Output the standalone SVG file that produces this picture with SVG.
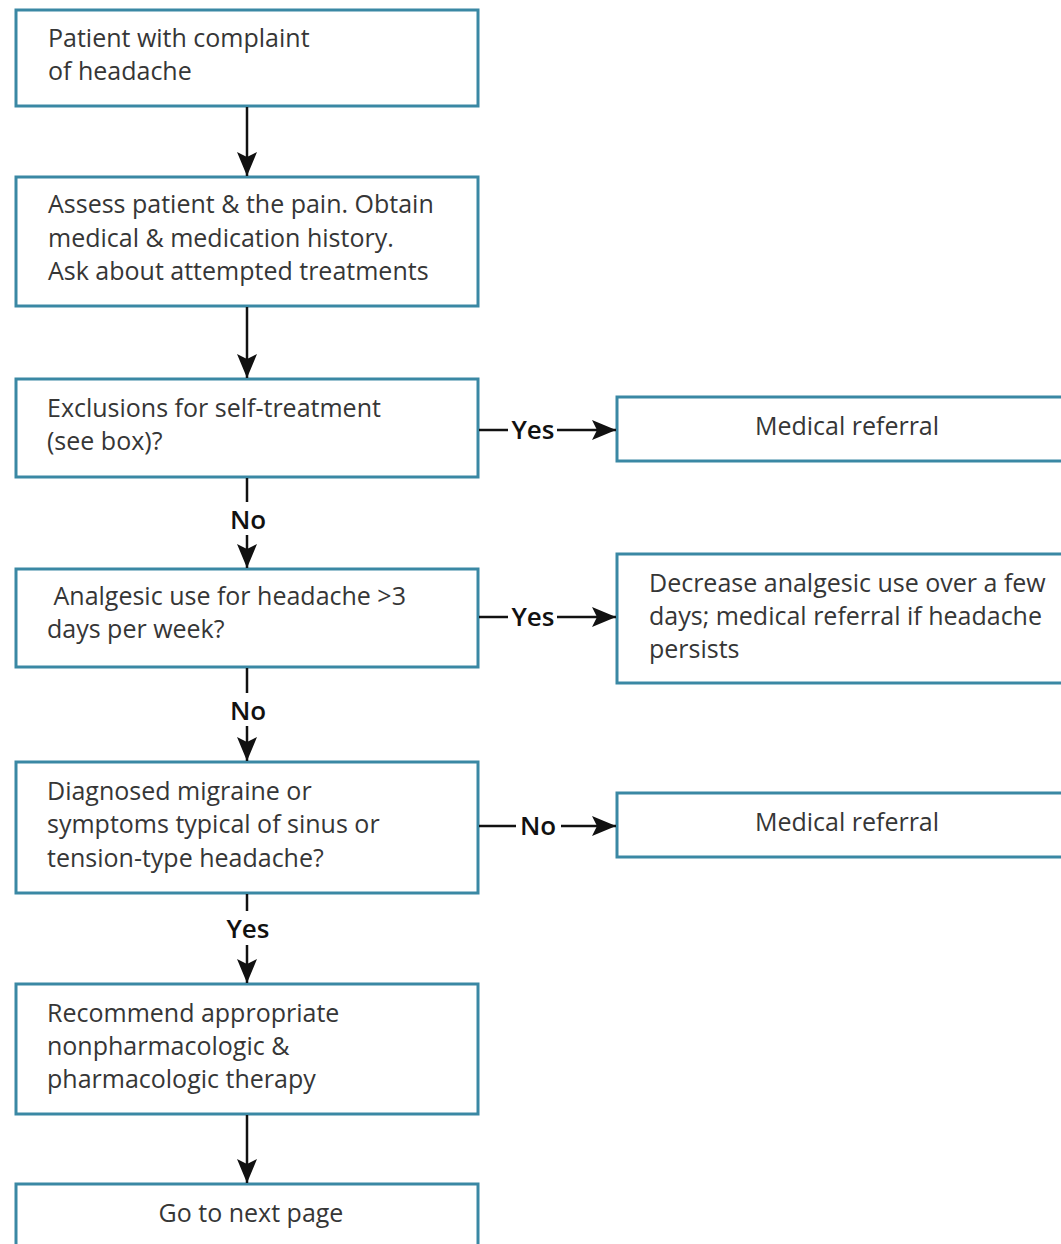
<svg xmlns="http://www.w3.org/2000/svg" width="1061" height="1244" viewBox="0 0 1061 1244">
<defs>
<marker id="arr" markerUnits="userSpaceOnUse" markerWidth="24" markerHeight="20" refX="24" refY="10" orient="auto">
<path d="M0,0 L24,10 L0,20 L5,10 Z" fill="#111"/>
</marker>
<style>
.box{fill:#fff;stroke:#3a88a4;stroke-width:3}
.t{font-family:"Open Sans","Liberation Sans",sans-serif;font-size:25px;fill:#363636;font-variant-ligatures:none}
.c{text-anchor:middle}
.lbl{font-family:"Open Sans","Liberation Sans",sans-serif;font-size:26px;font-weight:600;fill:#111;text-anchor:middle}
.ln{stroke:#111;stroke-width:2.5;fill:none}
.ar{stroke:#111;stroke-width:2.5;fill:none;marker-end:url(#arr)}
</style>
</defs>
<rect width="1061" height="1244" fill="#fff"/>
<g id="n1"><rect class="box" x="16" y="10" width="462" height="96"/>
<text class="t" x="48" y="47">Patient with complaint</text>
<text class="t" x="48" y="80">of headache</text></g>
<g id="n2"><rect class="box" x="16" y="177" width="462" height="129"/>
<text class="t" x="48" y="213">Assess patient &amp; the pain. Obtain</text>
<text class="t" x="48" y="247">medical &amp; medication history.</text>
<text class="t" x="48" y="280">Ask about attempted treatments</text></g>
<g id="n3"><rect class="box" x="16" y="379" width="462" height="98"/>
<text class="t" x="47" y="417">Exclusions for self-treatment</text>
<text class="t" x="47" y="450">(see box)?</text></g>
<g id="n4"><rect class="box" x="16" y="569" width="462" height="98"/>
<text class="t" x="47" y="605" xml:space="preserve"> Analgesic use for headache &gt;3</text>
<text class="t" x="47" y="638">days per week?</text></g>
<g id="n5"><rect class="box" x="16" y="762" width="462" height="131"/>
<text class="t" x="47" y="800">Diagnosed migraine or</text>
<text class="t" x="47" y="833">symptoms typical of sinus or</text>
<text class="t" x="47" y="867">tension-type headache?</text></g>
<g id="n6"><rect class="box" x="16" y="984" width="462" height="130"/>
<text class="t" x="47" y="1022">Recommend appropriate</text>
<text class="t" x="47" y="1055">nonpharmacologic &amp;</text>
<text class="t" x="47" y="1088">pharmacologic therapy</text></g>
<g id="n7"><rect class="box" x="16" y="1184" width="462" height="80"/>
<text class="t c" x="251" y="1222">Go to next page</text></g>
<g id="r1"><rect class="box" x="617" y="397" width="460" height="64"/>
<text class="t c" x="847" y="435">Medical referral</text></g>
<g id="r2"><rect class="box" x="617" y="554" width="460" height="129"/>
<text class="t" x="649" y="592">Decrease analgesic use over a few</text>
<text class="t" x="649" y="625">days; medical referral if headache</text>
<text class="t" x="649" y="658">persists</text></g>
<g id="r3"><rect class="box" x="617" y="793" width="460" height="64"/>
<text class="t c" x="847" y="831">Medical referral</text></g>
<g id="connectors">
<line class="ar" x1="247" y1="107" x2="247" y2="176"/>
<line class="ar" x1="247" y1="307" x2="247" y2="378"/>
<line class="ln" x1="247" y1="478" x2="247" y2="502"/>
<text class="lbl" x="248" y="529">No</text>
<line class="ar" x1="247" y1="535" x2="247" y2="568"/>
<line class="ln" x1="247" y1="668" x2="247" y2="693"/>
<text class="lbl" x="248" y="720">No</text>
<line class="ar" x1="247" y1="726" x2="247" y2="761"/>
<line class="ln" x1="247" y1="894" x2="247" y2="911"/>
<text class="lbl" x="248" y="938">Yes</text>
<line class="ar" x1="247" y1="945" x2="247" y2="983"/>
<line class="ar" x1="247" y1="1115" x2="247" y2="1183"/>
<line class="ln" x1="479" y1="430" x2="508" y2="430"/>
<text class="lbl" x="533" y="439">Yes</text>
<line class="ar" x1="557" y1="430" x2="616" y2="430"/>
<line class="ln" x1="479" y1="617" x2="508" y2="617"/>
<text class="lbl" x="533" y="626">Yes</text>
<line class="ar" x1="557" y1="617" x2="616" y2="617"/>
<line class="ln" x1="479" y1="826" x2="516" y2="826"/>
<text class="lbl" x="538" y="835">No</text>
<line class="ar" x1="561" y1="826" x2="616" y2="826"/>
</g>
</svg>
